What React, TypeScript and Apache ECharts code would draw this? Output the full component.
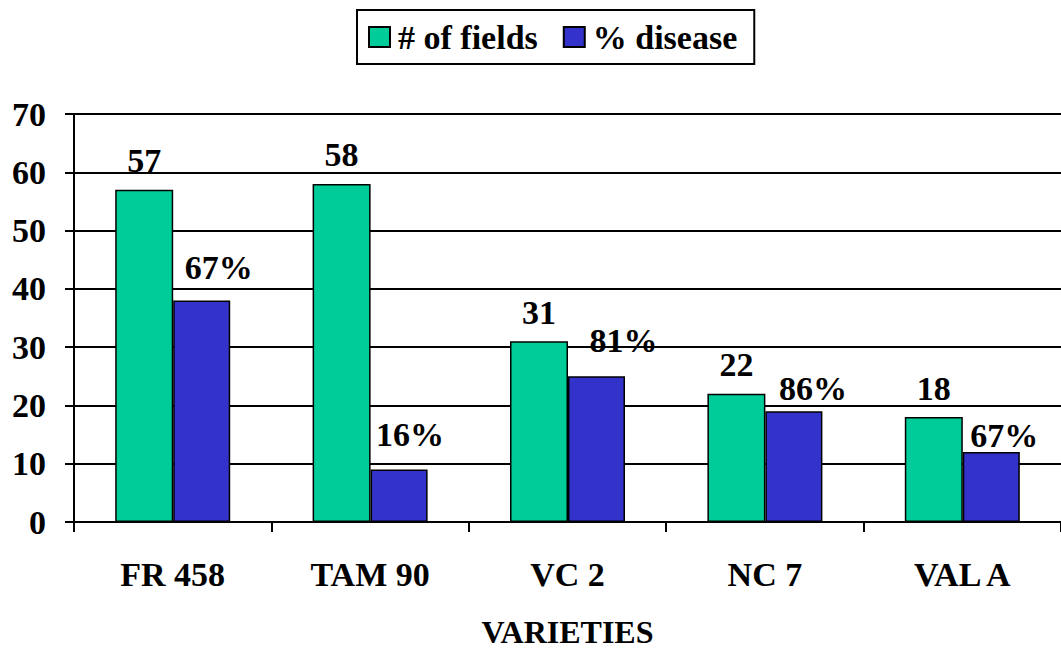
import React, { useEffect, useRef } from "react";
import * as echarts from "echarts";

const categories = ["FR 458", "TAM 90", "VC 2", "NC 7", "VAL A"];
const fieldCounts = [57, 58, 31, 22, 18];
const diseasedFields = [38, 9, 25, 19, 12];
const diseasePct = ["67%", "16%", "81%", "86%", "67%"];
const pctLabelOffsets = [
  [17, -4],
  [11, -6],
  [27, -7],
  [19, 6],
  [13, 12],
];
const yTicks = { min: 0, max: 70, interval: 10 };

const FONT = "Liberation Serif";

export default function App() {
  const ref = useRef<HTMLDivElement>(null);

  useEffect(() => {
    if (!ref.current) return;
    const chart = echarts.init(ref.current, null, { renderer: "svg" });
    const text = { fontFamily: FONT, fontWeight: "bold" as const, fontSize: 34, color: "#000" };
    chart.setOption({
      animation: false,
      backgroundColor: "#fff",
      textStyle: { fontFamily: FONT },
      legend: {
        left: 357,
        top: 10,
        padding: [10, 17, 10, 11],
        itemGap: 25,
        itemWidth: 21,
        itemHeight: 20,
        icon: "rect",
        borderColor: "#000",
        borderWidth: 2,
        textStyle: { ...text, padding: [0, 0, 0, 3] },
        data: ["# of fields", "% disease"],
      },
      grid: { left: 74, width: 996.5, top: 114, height: 411, containLabel: false },
      xAxis: {
        type: "category",
        data: categories,
        axisLine: { lineStyle: { color: "#000", width: 2 } },
        axisTick: { show: true, length: 10, lineStyle: { color: "#000", width: 2 } },
        axisLabel: { ...text, margin: 35 },
        name: "VARIETIES",
        nameLocation: "middle",
        nameGap: 94,
        nameTextStyle: { ...text, fontSize: 32 },
      },
      yAxis: {
        type: "value",
        min: yTicks.min,
        max: yTicks.max,
        interval: yTicks.interval,
        axisLine: { show: true, lineStyle: { color: "#000", width: 2 } },
        axisTick: { show: true, length: 9, lineStyle: { color: "#000", width: 2 } },
        axisLabel: { ...text, margin: 28 },
        splitLine: { show: true, lineStyle: { color: "#000", width: 2 } },
      },
      series: [
        {
          name: "# of fields",
          type: "bar",
          data: fieldCounts,
          barWidth: 58,
          barGap: "0%",
          itemStyle: { color: "#00CC99", borderColor: "#000", borderWidth: 1.5 },
          label: { show: true, position: "top", distance: 12, ...text },
        },
        {
          name: "% disease",
          type: "bar",
          barWidth: 57,
          data: diseasedFields.map((v, i) => ({
            value: v,
            label: { offset: pctLabelOffsets[i] },
          })),
          itemStyle: { color: "#3333CC", borderColor: "#000", borderWidth: 1.5 },
          label: {
            show: true,
            position: "top",
            distance: 12,
            ...text,
            formatter: (p: any) => diseasePct[p.dataIndex],
          },
        },
      ],
    });
    return () => chart.dispose();
  }, []);

  return (
    <div
      ref={ref}
      style={{ position: "fixed", left: 0, top: 0, width: 1061, height: 653, background: "#fff" }}
    />
  );
}
